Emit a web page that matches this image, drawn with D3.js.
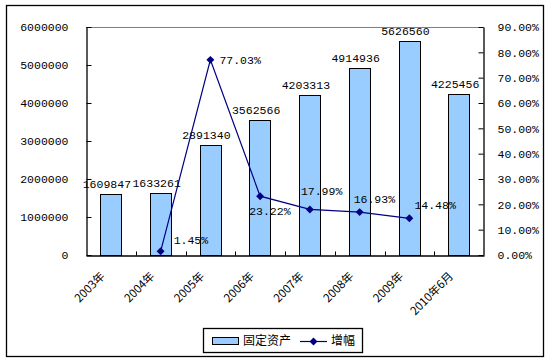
<!DOCTYPE html>
<html>
<head>
<meta charset="utf-8">
<script src="https://cdn.jsdelivr.net/npm/d3@7"></script>
<style>
  body { margin: 0; background: #fff; }
  svg text { font-family: "Liberation Mono", monospace; font-size: 11.5px; fill: #000; }
  svg text.cjk { font-family: "Noto Sans CJK SC", sans-serif; font-size: 12px; }
</style>
</head>
<body>
<svg id="chart" width="554" height="364"></svg>
<script>
// данные
const categories = ['2003年', '2004年', '2005年', '2006年', '2007年', '2008年', '2009年', '2010年6月'];
const assets = [1609847, 1633261, 2891340, 3562566, 4203313, 4914936, 5626560, 4225456];
const growth = [null, 1.45, 77.03, 23.22, 17.99, 16.93, 14.48, null];
const leftTicks = [0, 1000000, 2000000, 3000000, 4000000, 5000000, 6000000];
const rightTicks = [0, 10, 20, 30, 40, 50, 60, 70, 80, 90];
// смещения подписей процентов (как в оригинале)
const growthLabelOffsets = [null, [13, -11], [9, 0], [-11, 15], [-9, -18], [-6, -13], [5, -13], null];

const svg = d3.select('#chart');

// внешняя рамка
svg.append('rect')
    .attr('x', 6.5).attr('y', 5.5)
    .attr('width', 537).attr('height', 351)
    .attr('fill', 'none').attr('stroke', '#000').attr('stroke-width', 1.3);

const plot = { left: 86, right: 484, top: 27, bottom: 255 };

const x = d3.scaleBand()
    .domain(categories)
    .range([plot.left, plot.right]);

const yLeft = d3.scaleLinear().domain([0, 6000000]).range([plot.bottom, plot.top]);
const yRight = d3.scaleLinear().domain([0, 90]).range([plot.bottom, plot.top]);

// верхняя линия сетки
svg.append('line')
    .attr('x1', plot.left).attr('x2', plot.right)
    .attr('y1', plot.top + 0.5).attr('y2', plot.top + 0.5)
    .attr('stroke', '#808080');

// столбцы
const barW = x.bandwidth() * 0.43;
svg.selectAll('.bar')
    .data(assets)
    .join('rect')
    .attr('class', 'bar')
    .attr('x', (d, i) => Math.round(x(categories[i]) + x.bandwidth() / 2 - barW / 2) + 0.5)
    .attr('y', d => Math.round(yLeft(d)) + 0.5)
    .attr('width', Math.round(barW))
    .attr('height', d => plot.bottom - Math.round(yLeft(d)))
    .attr('fill', '#99ccff')
    .attr('stroke', '#000')
    .attr('stroke-width', 1);

// подписи столбцов
svg.selectAll('.bar-label')
    .data(assets)
    .join('text')
    .attr('class', 'bar-label')
    .attr('x', (d, i) => x(categories[i]) + x.bandwidth() / 2 - 4)
    .attr('y', d => yLeft(d) - 6)
    .attr('text-anchor', 'middle')
    .text(d => d);

// левая ось
const axisL = svg.append('g')
    .attr('transform', `translate(${plot.left + 0.5},0)`)
    .call(d3.axisLeft(yLeft).tickValues(leftTicks).tickSizeInner(-5).tickSizeOuter(0).tickPadding(18).tickFormat(d3.format('d')));

// правая ось
const axisR = svg.append('g')
    .attr('transform', `translate(${plot.right - 0.5},0)`)
    .call(d3.axisRight(yRight).tickValues(rightTicks).tickSizeInner(-5).tickSizeOuter(0).tickPadding(14).tickFormat(d => d.toFixed(2) + '%'));

// нижняя ось
const axisB = svg.append('g')
    .attr('transform', `translate(0,${plot.bottom + 0.5})`)
    .call(d3.axisBottom(x).tickSize(0).tickFormat(''));
axisB.selectAll('.sep')
    .data(categories.slice(1))
    .join('line')
    .attr('class', 'sep')
    .attr('x1', d => Math.round(x(d)) + 0.5).attr('x2', d => Math.round(x(d)) + 0.5)
    .attr('y1', 0).attr('y2', -4)
    .attr('stroke', '#000');

[axisL, axisR, axisB].forEach(a => {
    a.select('.domain').attr('stroke', '#000').attr('stroke-width', 1.3);
    a.selectAll('.tick line').attr('stroke', '#000');
    a.selectAll('text').attr('fill', '#000').style('font-size', '11.5px');
});

// подписи категорий
svg.selectAll('.cat-label')
    .data(categories)
    .join('text')
    .attr('class', 'cat-label cjk')
    .attr('transform', d => `translate(${x(d) + x.bandwidth() / 2 - 8},${plot.bottom + 19}) rotate(-45)`)
    .attr('text-anchor', 'end')
    .attr('dy', '0.35em')
    .style('font-size', '11.5px')
    .text(d => d);

// линия прироста
const growthPts = growth.map((v, i) => ({ v, i })).filter(p => p.v !== null);
const line = d3.line()
    .x(p => x(categories[p.i]) + x.bandwidth() / 2)
    .y(p => yRight(p.v));

svg.append('path')
    .datum(growthPts)
    .attr('d', line)
    .attr('fill', 'none')
    .attr('stroke', '#000080')
    .attr('stroke-width', 1.2);

svg.selectAll('.marker')
    .data(growthPts)
    .join('path')
    .attr('class', 'marker')
    .attr('transform', p => `translate(${x(categories[p.i]) + x.bandwidth() / 2},${yRight(p.v)})`)
    .attr('d', d3.symbol(d3.symbolDiamond2, 40))
    .attr('fill', '#000080');

svg.selectAll('.growth-label')
    .data(growthPts)
    .join('text')
    .attr('class', 'growth-label')
    .attr('x', p => x(categories[p.i]) + x.bandwidth() / 2 + growthLabelOffsets[p.i][0])
    .attr('y', p => yRight(p.v) + growthLabelOffsets[p.i][1])
    .attr('dy', '0.35em')
    .text(p => p.v.toFixed(2) + '%');

// легенда
const legend = svg.append('g').attr('transform', 'translate(203,328)');
legend.append('rect')
    .attr('x', 0.5).attr('y', 0.5).attr('width', 159).attr('height', 24)
    .attr('fill', '#fff').attr('stroke', '#000').attr('stroke-width', 1.3);
legend.append('rect')
    .attr('x', 9.5).attr('y', 9.5).attr('width', 26).attr('height', 7)
    .attr('fill', '#99ccff').attr('stroke', '#000');
legend.append('text').attr('class', 'cjk')
    .attr('x', 40).attr('y', 13).attr('dy', '0.35em').text('固定资产');
legend.append('line')
    .attr('x1', 97).attr('x2', 124).attr('y1', 13.5).attr('y2', 13.5)
    .attr('stroke', '#000080').attr('stroke-width', 1.2);
legend.append('path')
    .attr('transform', 'translate(110.5,13.5)')
    .attr('d', d3.symbol(d3.symbolDiamond2, 40))
    .attr('fill', '#000080');
legend.append('text').attr('class', 'cjk')
    .attr('x', 128).attr('y', 13).attr('dy', '0.35em').text('增幅');
</script>
</body>
</html>
